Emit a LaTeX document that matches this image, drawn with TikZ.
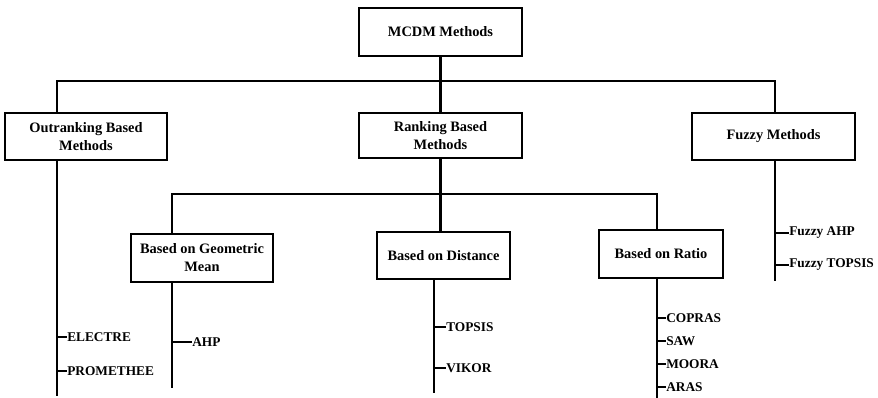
\documentclass[tikz,border=0pt]{standalone}
\usepackage{fontspec}
\setmainfont{Liberation Serif}
\usetikzlibrary{calc}
\tikzstyle{box}=[draw, line width=2pt, align=center, inner sep=2pt]
\tikzstyle{leaf}=[anchor=west, inner sep=0pt, font=\fontsize{10}{12}\selectfont\bfseries]
\tikzstyle{branch}=[line width=2pt]

\begin{document}
\begin{tikzpicture}[x=0.75pt, y=-0.75pt,
	every node/.style={font=\fontsize{10.8}{13.5}\selectfont\bfseries}]
	\useasboundingbox (0,0) rectangle (878,398);

	% top level
	\node[box, minimum width=163*0.75pt, minimum height=48*0.75pt] (mcdm) at (440.5,32) {MCDM Methods};
	\coordinate (bar1) at (0,81);

	\node[box, minimum width=162*0.75pt, minimum height=47*0.75pt] (out) at (86,136.5) {Outranking Based\\Methods};
	\node[box, minimum width=163*0.75pt, minimum height=45*0.75pt] (rank) at (440.5,135.5) {Ranking Based\\Methods};
	\node[box, minimum width=163*0.75pt, minimum height=47*0.75pt] (fuzzy) at (773.5,136.5) {Fuzzy Methods};

	\coordinate (outline) at (57,0);
	\coordinate (fuzzyline) at (775,0);

	\draw[branch] (mcdm.south) -- (rank.north);
	\draw[branch] (outline |- out.north) -- (outline |- bar1) -- (fuzzyline |- bar1) -- (fuzzyline |- fuzzy.north);

	% second level
	\coordinate (bar2) at (0,194);
	\node[box, minimum width=142*0.75pt, minimum height=48*0.75pt] (geo) at (202,258) {Based on Geometric\\Mean};
	\node[box, minimum width=133*0.75pt, minimum height=47*0.75pt] (dist) at (443.5,255.5) {Based on Distance};
	\node[box, minimum width=124*0.75pt, minimum height=48*0.75pt] (ratio) at (661,254) {Based on Ratio};

	\coordinate (geoline) at (172,0);
	\coordinate (distline) at (434,0);
	\coordinate (ratioline) at (657,0);

	\draw[branch] (rank.south) -- (rank |- bar2);
	\draw[branch] (geoline |- geo.north) -- (geoline |- bar2) -- (ratioline |- bar2) -- (ratioline |- ratio.north);
	\draw[branch] (rank |- bar2) -- (rank |- dist.north);

	% leaves
	\node[leaf] (electre) at (67,337) {ELECTRE};
	\node[leaf] (promethee) at (67,371) {PROMETHEE};
	\draw[branch] (outline |- out.south) -- ++(0,235);
	\draw[branch] (outline |- electre.west) -- (electre.west);
	\draw[branch] (outline |- promethee.west) -- (promethee.west);

	\node[leaf] (ahp) at (192,342) {AHP};
	\draw[branch] (geoline |- geo.south) -- ++(0,105);
	\draw[branch] (geoline |- ahp.west) -- (ahp.west);

	\node[leaf] (topsis) at (446,327) {TOPSIS};
	\node[leaf] (vikor) at (446,368) {VIKOR};
	\draw[branch] (distline |- dist.south) -- ++(0,113);
	\draw[branch] (distline |- topsis.west) -- (topsis.west);
	\draw[branch] (distline |- vikor.west) -- (vikor.west);

	\node[leaf] (copras) at (666,318) {COPRAS};
	\node[leaf] (saw) at (666,341) {SAW};
	\node[leaf] (moora) at (666,364) {MOORA};
	\node[leaf] (aras) at (666,387) {ARAS};
	\draw[branch] (ratioline |- ratio.south) -- ++(0,120);
	\foreach \m in {copras, saw, moora, aras}
		\draw[branch] (ratioline |- \m.west) -- (\m.west);

	\node[leaf] (fahp) at (789,233) {Fuzzy AHP};
	\node[leaf] (ftopsis) at (789,265) {Fuzzy TOPSIS};
	\draw[branch] (fuzzyline |- fuzzy.south) -- ++(0,120);
	\draw[branch] (fuzzyline |- fahp.west) -- (fahp.west);
	\draw[branch] (fuzzyline |- ftopsis.west) -- (ftopsis.west);
\end{tikzpicture}
\end{document}
